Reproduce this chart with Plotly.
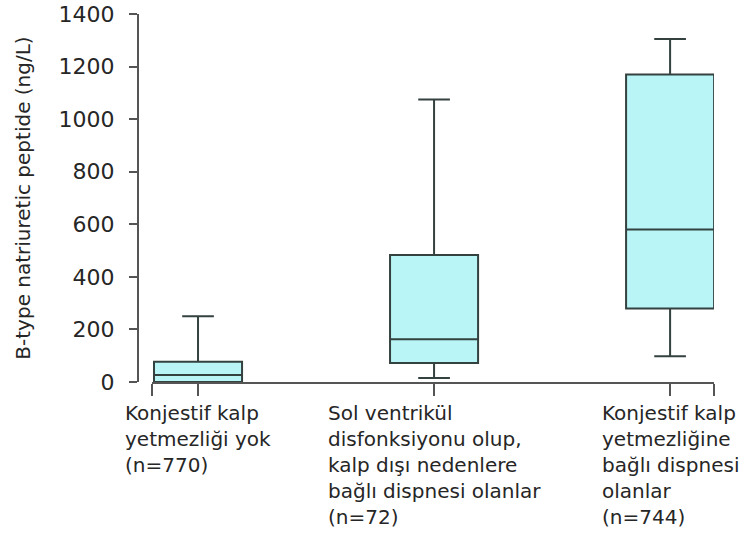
import plotly.graph_objects as go

# Summary statistics of BNP (ng/L) per patient group
groups = [
    "Konjestif kalp<br>yetmezliği yok<br>(n=770)",
    "Sol ventrikül<br>disfonksiyonu olup,<br>kalp dışı nedenlere<br>bağlı dispnesi olanlar<br>(n=72)",
    "Konjestif kalp<br>yetmezliğine<br>bağlı dispnesi<br>olanlar<br>(n=744)",
]
lower_whisker = [0, 15, 98]
q1_values = [0, 72, 280]
medians = [27, 163, 580]
q3_values = [77, 483, 1170]
upper_whisker = [250, 1075, 1305]

y_ticks = [0, 200, 400, 600, 800, 1000, 1200, 1400]

positions = list(range(len(groups)))

W, H = 747, 540
FONT = "DejaVu Sans"
TEXT = "#262626"
LINE = "#33413f"
AXIS = "#555555"

fig = go.Figure()
fig.add_trace(go.Box(
    x=positions,
    q1=q1_values,
    median=medians,
    q3=q3_values,
    lowerfence=lower_whisker,
    upperfence=upper_whisker,
    width=0.373,
    whiskerwidth=0.36,
    fillcolor="#b9f5f6",
    line=dict(color=LINE, width=2),
    boxpoints=False,
    showlegend=False,
    hoverinfo="skip",
))

# Group labels under the axis: block centred on the box, lines left-aligned
for pos, label in zip(positions, groups):
    fig.add_annotation(
        x=pos, xref="x", y=0, yref="paper",
        yanchor="top", xanchor="center", align="left",
        yshift=-17, showarrow=False, text=label,
        font=dict(family=FONT, size=20, color=TEXT),
    )

x_lo, x_hi = -0.195, 2.186
left_px, right_px = 152, 714
fig.update_layout(
    width=W, height=H,
    margin=dict(l=0, r=0, t=14, b=158),
    paper_bgcolor="white", plot_bgcolor="white",
    xaxis=dict(
        domain=[left_px / W, right_px / W],
        range=[x_lo, x_hi],
        tickvals=[x_lo] + positions + [x_hi],
        ticktext=[""] * (len(positions) + 2),
        ticks="outside", ticklen=12, tickwidth=2, tickcolor=AXIS,
        showline=True, linecolor=AXIS, linewidth=2,
        showgrid=False, zeroline=False, automargin=False,
    ),
    yaxis=dict(
        anchor="free", position=138 / W,
        range=[0, 1400],
        tickvals=y_ticks,
        ticks="outside", ticklen=8, tickwidth=2, tickcolor=AXIS,
        ticklabelstandoff=10,
        tickfont=dict(family=FONT, size=22, color=TEXT),
        showline=True, linecolor=AXIS, linewidth=2,
        showgrid=False, zeroline=False, automargin=False,
        title=dict(text="B-type natriuretic peptide (ng/L)",
                   font=dict(family=FONT, size=20, color=TEXT),
                   standoff=22),
    ),
)

fig.write_html("out.html")
